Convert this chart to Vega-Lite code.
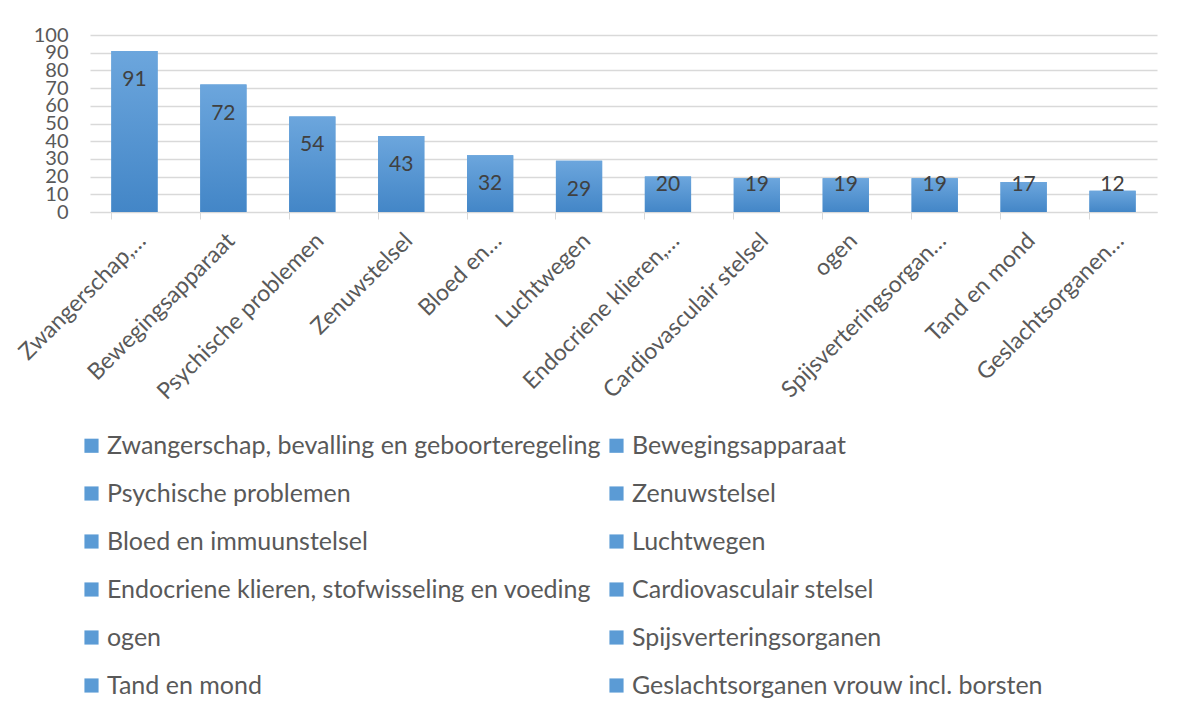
{
  "$schema": "https://vega.github.io/schema/vega-lite/v6.json",
  "width": 1067,
  "height": 177,
  "autosize": {"type": "none"},
  "padding": {"left": 90, "top": 35, "right": 26, "bottom": 506},
  "background": "white",
  "config": {
    "view": {"stroke": null},
    "font": "Lato",
    "axis": {"labelFont": "Lato", "labelColor": "#595959"},
    "legend": {"labelFont": "Lato"}
  },
  "data": {
    "values": [
      {"name": "Zwangerschap, bevalling en geboorteregeling", "short": "Zwangerschap,…", "value": 91},
      {"name": "Bewegingsapparaat", "short": "Bewegingsapparaat", "value": 72},
      {"name": "Psychische problemen", "short": "Psychische problemen", "value": 54},
      {"name": "Zenuwstelsel", "short": "Zenuwstelsel", "value": 43},
      {"name": "Bloed en immuunstelsel", "short": "Bloed en…", "value": 32},
      {"name": "Luchtwegen", "short": "Luchtwegen", "value": 29},
      {"name": "Endocriene klieren, stofwisseling en voeding", "short": "Endocriene klieren,…", "value": 20},
      {"name": "Cardiovasculair stelsel", "short": "Cardiovasculair stelsel", "value": 19},
      {"name": "ogen", "short": "ogen", "value": 19},
      {"name": "Spijsverteringsorganen", "short": "Spijsverteringsorgan…", "value": 19},
      {"name": "Tand en mond", "short": "Tand en mond", "value": 17},
      {"name": "Geslachtsorganen vrouw incl. borsten", "short": "Geslachtsorganen…", "value": 12}
    ]
  },
  "encoding": {
    "x": {
      "field": "short",
      "type": "nominal",
      "sort": null,
      "scale": {"paddingInner": 0.48, "paddingOuter": 0.24},
      "axis": {
        "title": null,
        "labelAngle": -45,
        "labelFontSize": 23,
        "labelPadding": 10,
        "labelLimit": 400,
        "labelOverlap": false,
        "domainColor": "#d9d9d9",
        "tickColor": "#d9d9d9",
        "tickSize": 7,
        "bandPosition": 0,
        "grid": false
      }
    },
    "y": {
      "field": "value",
      "type": "quantitative",
      "scale": {"domain": [0, 100], "nice": false},
      "axis": {
        "title": null,
        "values": [0, 10, 20, 30, 40, 50, 60, 70, 80, 90, 100],
        "labelFontSize": 20,
        "labelPadding": 22,
        "labelOverlap": false,
        "labelFlush": false,
        "domain": false,
        "ticks": false,
        "gridColor": "#d9d9d9",
        "gridWidth": 1.3
      }
    }
  },
  "layer": [
    {
      "mark": {"type": "bar"},
      "encoding": {
        "color": {
          "field": "name",
          "type": "nominal",
          "sort": null,
          "scale": {"range": ["#5B9BD5"]},
          "legend": {
            "title": null,
            "orient": "none",
            "direction": "horizontal",
            "legendX": -11,
            "legendY": 398,
            "columns": 2,
            "symbolType": "square",
            "symbolSize": 200,
            "symbolStrokeWidth": 0,
            "labelFontSize": 25,
            "labelColor": "#595959",
            "labelLimit": 600,
            "rowPadding": 22,
            "columnPadding": 3,
            "labelOffset": 3
          }
        }
      }
    },
    {
      "mark": {
        "type": "bar",
        "color": {
          "gradient": "linear",
          "x1": 0, "y1": 0, "x2": 0, "y2": 1,
          "stops": [
            {"offset": 0, "color": "#6CA6DD"},
            {"offset": 1, "color": "#4386C7"}
          ]
        }
      }
    },
    {
      "transform": [{"filter": "datum.value >= 25"}],
      "mark": {"type": "text", "dy": 29, "baseline": "middle", "fontSize": 21, "color": "#404040"},
      "encoding": {"text": {"field": "value", "type": "quantitative"}}
    },
    {
      "transform": [{"filter": "datum.value < 25"}],
      "mark": {"type": "text", "baseline": "middle", "fontSize": 21, "color": "#404040"},
      "encoding": {
        "y": {"datum": 15, "type": "quantitative"},
        "text": {"field": "value", "type": "quantitative"}
      }
    }
  ]
}
